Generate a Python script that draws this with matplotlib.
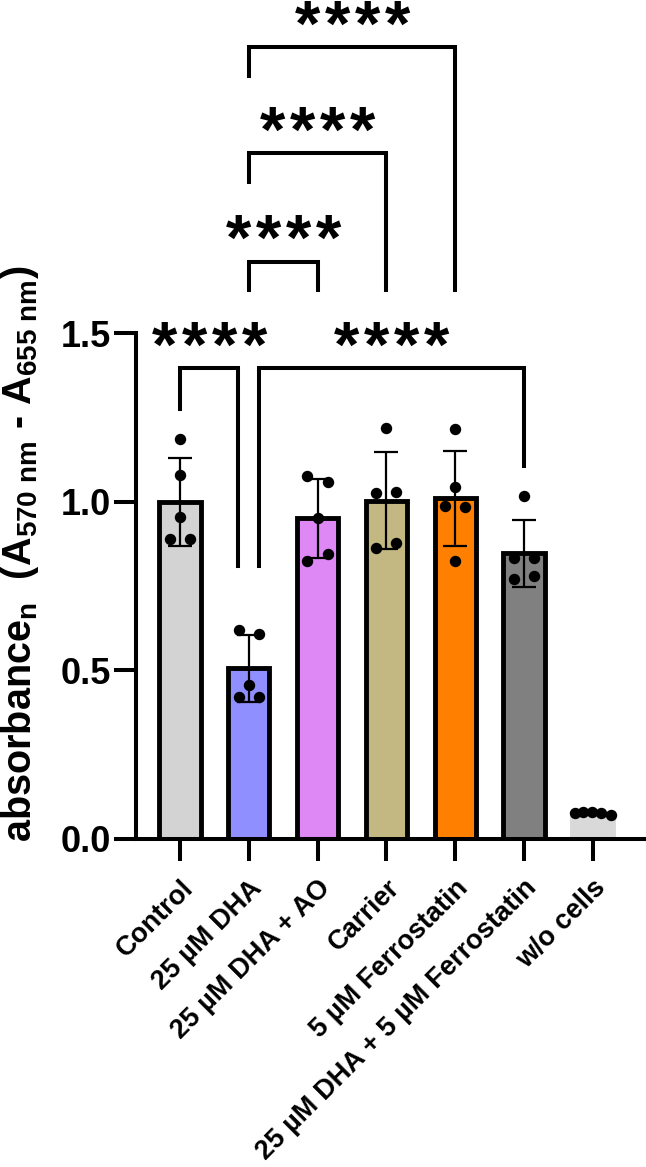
import matplotlib
matplotlib.use('Agg')
import matplotlib.pyplot as plt
import numpy as np

plt.rcParams['font.family'] = ['Liberation Sans', 'DejaVu Sans']
plt.rcParams['font.weight'] = 'bold'
plt.rcParams['mathtext.fontset'] = 'custom'
plt.rcParams['mathtext.rm'] = 'Liberation Sans:bold'
plt.rcParams['mathtext.it'] = 'Liberation Sans:bold'
plt.rcParams['mathtext.bf'] = 'Liberation Sans:bold'
plt.rcParams['mathtext.default'] = 'rm'

# groups and replicate values (5 wells each)
groups = ['Control', '25 µM DHA', '25 µM DHA + AO', 'Carrier',
          '5 µM Ferrostatin', '25 µM DHA + 5 µM Ferrostatin', 'w/o cells']
control = [1.186, 1.080, 0.956, 0.889, 0.889]
dha = [0.620, 0.608, 0.457, 0.422, 0.422]
dha_ao = [1.075, 1.057, 0.952, 0.846, 0.823]
carrier = [1.219, 1.026, 1.028, 0.879, 0.863]
ferro = [1.215, 1.045, 0.986, 0.984, 0.823]
dha_ferro = [1.016, 0.833, 0.833, 0.771, 0.780]
no_cells = [0.078, 0.079, 0.079, 0.078, 0.071]
values = [control, dha, dha_ao, carrier, ferro, dha_ferro, no_cells]

colors = ['#d3d3d3', '#8f8fff', '#dd88f5', '#c4b882', '#ff8000', '#808080', '#d9d9d9']

# horizontal scatter of the points inside each bar
jitter = [[0, 0, 0, -0.145, 0.145],
          [-0.15, 0.15, 0, -0.15, 0.15],
          [-0.16, 0.145, 0, 0.145, -0.16],
          [0, -0.145, 0.145, 0.145, -0.145],
          [0, 0, -0.145, 0.145, 0],
          [0, -0.145, 0.145, -0.145, 0.145],
          [-0.26, -0.145, -0.015, 0.116, 0.26]]

# significance brackets: x1, x2, top, left leg end, right leg end, number of stars
brackets = [(0.0, 0.845, 1.395, 1.276, 0.81, 4),
            (1.145, 5.0, 1.395, 0.81, 1.107, 4),
            (1.0, 2.0, 1.712, 1.629, 1.629, 4),
            (1.0, 3.0, 2.033, 1.947, 1.629, 4),
            (1.0, 4.0, 2.347, 2.261, 1.629, 4)]

means = [np.mean(v) for v in values]
sds = [np.std(v, ddof=1) for v in values]
x = np.arange(len(groups))

fig = plt.figure(figsize=(6.46, 11.67), dpi=100)
ax = fig.add_axes([136/646, 1 - 839/1167, 508/646, 839/1167])

edges = ['black'] * 6 + [colors[6]]
ax.bar(x, means, width=0.6, color=colors, edgecolor=edges, linewidth=3.5, zorder=2)
ax.errorbar(x, means, yerr=sds, fmt='none', ecolor='black', elinewidth=1.6,
            capsize=8.3, capthick=1.6, zorder=3)
for i, v in enumerate(values):
    ax.plot(x[i] + np.array(jitter[i]), v, 'o', color='black', markersize=7.2,
            zorder=4, clip_on=False)

for x1, x2, top, l_end, r_end, n in brackets:
    ax.plot([x1, x1, x2, x2], [l_end, top, top, r_end], color='black', lw=2.9,
            solid_joinstyle='miter', clip_on=False, zorder=5)
    # stars drawn one by one to get the wide spacing of the original
    for k in range(n):
        dx = (k - (n - 1) / 2) * 21.6
        ax.annotate('*', xy=((x1 + x2) / 2, top), xytext=(dx, 1.0), textcoords='offset points',
                    ha='center', va='baseline', fontsize=47, fontweight='bold')

ax.set_xlim(-0.64, 6.744)
ax.set_ylim(0, 839/337.3)
ax.set_yticks([0, 0.5, 1.0, 1.5])
ax.set_yticklabels(['0.0', '0.5', '1.0', '1.5'])
ax.set_xticks(x)
ax.set_xticklabels(groups, rotation=45, ha='right', rotation_mode='anchor', fontsize=19.6)
ax.tick_params(axis='y', length=16, width=2.9, labelsize=26, pad=2)
ax.tick_params(axis='x', length=16, width=2.9, pad=10)

for s in ['top', 'right']:
    ax.spines[s].set_visible(False)
ax.spines['left'].set_bounds(0, 1.5)
ax.spines['left'].set_linewidth(2.9)
ax.spines['bottom'].set_linewidth(2.9)

fig.text(20/646, 1 - 554/1167, r'absorbance$_{n}$  (A$_{570\ nm}$ - A$_{655\ nm}$)',
         rotation=90, ha='center', va='center', fontsize=28.5, fontweight='bold')

fig.savefig('out.png', dpi=100)
